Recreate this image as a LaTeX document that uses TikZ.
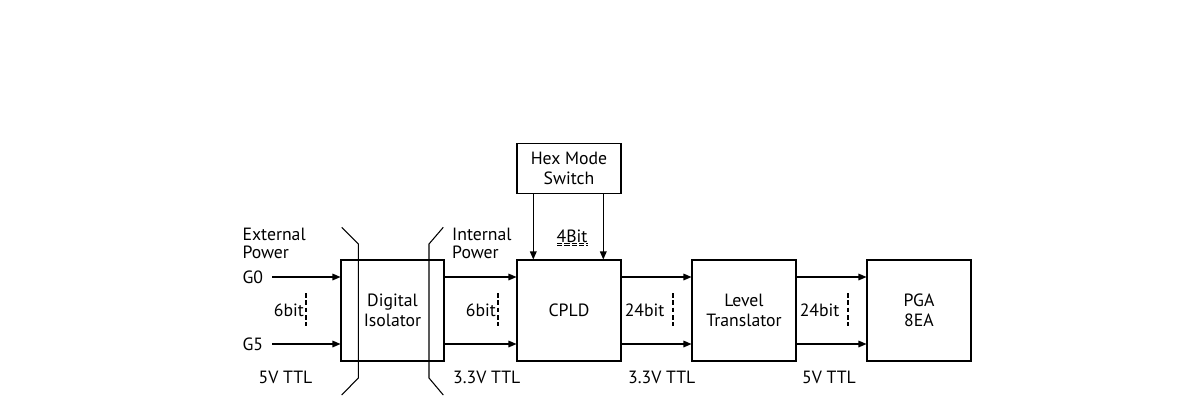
\documentclass[tikz,border=0pt]{standalone}
\usepackage{fontspec}
\setmainfont{PT Sans}
\usetikzlibrary{arrows.meta}
\begin{document}
\begin{tikzpicture}[x=0.75pt,y=-0.75pt,
  font=\fontsize{13.3}{15}\selectfont,
  line width=0.8pt,
  blk/.style={draw, line width=0.8pt, inner sep=0pt, align=center, minimum width=78pt, minimum height=75.75pt},
  sig/.style={-{Triangle[length=6pt,width=5pt]}, line width=0.8pt},
  bus/.style={line width=1.3pt, dash pattern=on 3.5pt off 2pt},
  lbl/.style={inner sep=0pt}]
\useasboundingbox (0,0) rectangle (1190,415);
% blocks
\node[blk, minimum width=77.25pt] (iso) at (392.5,310.5) {Digital\\Isolator};
\node[blk] (cpld) at (569,310.5) {CPLD};
\node[blk, minimum height=37.5pt] (hex) at (569,168.3) {Hex Mode\\Switch};
\node[blk] (lvl) at (744,310.5) {Level\\Translator};
\node[blk] (pga) at (919,310.5) {PGA\\8EA};
% isolation barriers
\draw (341.7,227.3) -- (358.3,244) -- (358.3,378) -- (341.7,395);
\draw (443.3,227.3) -- (429,244) -- (429,378) -- (443.3,395);
% left labels
\node[lbl, anchor=west] (ext1) at (242,234) {External};
\node[lbl, anchor=west] (ext2) at (242,252.5) {Power};
\node[lbl, anchor=west] (int1) at (451.7,234) {Internal};
\node[lbl, anchor=west] (int2) at (451.7,252.5) {Power};
\node[lbl, anchor=west] (g0) at (242,277) {G0};
\node[lbl, anchor=west] (g5) at (242,344) {G5};
% rows
\draw[sig] (272,277) -- (iso.west |- g0);
\draw[sig] (272,344) -- (iso.west |- g5);
\coordinate (r1) at (0,277);
\coordinate (r2) at (0,344);
\draw[sig] (iso.east |- r1) -- (cpld.west |- r1);
\draw[sig] (iso.east |- r2) -- (cpld.west |- r2);
\draw[sig] (cpld.east |- r1) -- (lvl.west |- r1);
\draw[sig] (cpld.east |- r2) -- (lvl.west |- r2);
\draw[sig] (lvl.east |- r1) -- (pga.west |- r1);
\draw[sig] (lvl.east |- r2) -- (pga.west |- r2);
% switch arrows
\coordinate (s1) at (533.3,0);
\coordinate (s2) at (603.3,0);
\draw[sig] (hex.south -| s1) -- (cpld.north -| s1);
\draw[sig] (hex.south -| s2) -- (cpld.north -| s2);
\node[lbl] (fourbit) at (572,236.5) {4Bit};
\draw[line width=0.6pt, double, double distance=0.8pt, dash pattern=on 4pt off 1.5pt] (557,244.5) -- (588,244.5);
% bus widths
\node[lbl, anchor=east] (b1) at (304.5,310) {6bit};
\draw[bus] (306,293) -- (306,326);
\node[lbl, anchor=east] (b2) at (496.5,310) {6bit};
\draw[bus] (498,293) -- (498,326);
\node[lbl, anchor=east] (b3) at (665,310) {24bit};
\draw[bus] (673,293) -- (673,326);
\node[lbl, anchor=east] (b4) at (840,310) {24bit};
\draw[bus] (848,293) -- (848,326);
% voltage labels
\node[lbl] (v1) at (285.5,377.5) {5V TTL};
\node[lbl] (v2) at (486.7,377.5) {3.3V TTL};
\node[lbl] (v3) at (661.7,377.5) {3.3V TTL};
\node[lbl] (v4) at (829,377.5) {5V TTL};
\end{tikzpicture}
\end{document}
